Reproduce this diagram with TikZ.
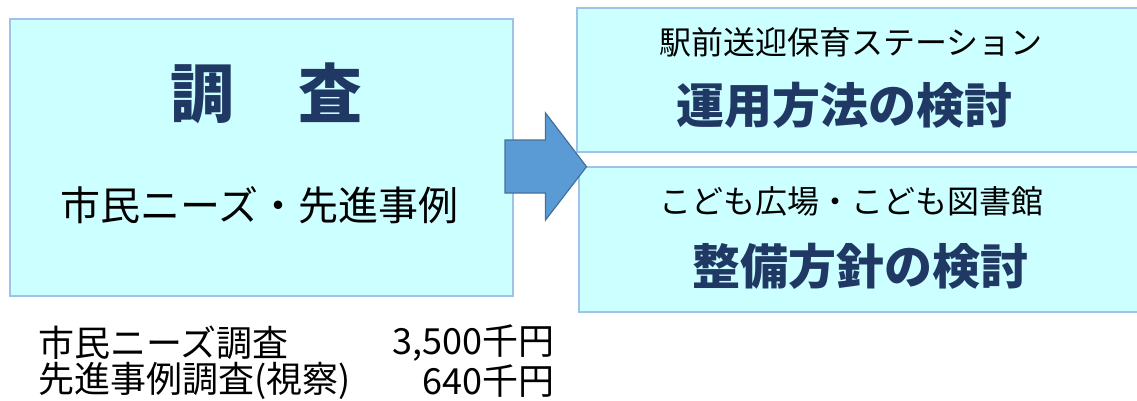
\documentclass[tikz,border=0pt]{standalone}
\usepackage{fontspec}
\setmainfont{Noto Sans CJK JP}
\definecolor{boxfill}{HTML}{CCFFFF}
\definecolor{boxline}{HTML}{9DC3E6}
\definecolor{navy}{HTML}{203864}
\definecolor{arrowfill}{HTML}{5B9BD5}
\definecolor{arrowline}{HTML}{41719C}
\tikzset{
  panel/.style={draw=boxline, fill=boxfill, line width=2pt},
  plain/.style={inner sep=0pt, text=black},
  bigtxt/.style={plain, font=\fontsize{40pt}{48pt}\selectfont},
  midtxt/.style={plain, font=\fontsize{32pt}{38pt}\selectfont},
  smalltxt/.style={plain, font=\fontsize{36pt}{42pt}\selectfont},
  headtxt/.style={inner sep=0pt, text=navy, font=\fontsize{48pt}{56pt}\selectfont\bfseries},
  titletxt/.style={inner sep=0pt, text=navy, font=\fontsize{64pt}{72pt}\selectfont\bfseries},
}
\begin{document}
\begin{tikzpicture}[x=1pt,y=-1pt]
\useasboundingbox (0,0) rectangle (1137,400);
% boxes
\draw[panel] (10,19) rectangle (513,296);
\draw[panel] (577,8) rectangle (1150,152);
\draw[panel] (579,167) rectangle (1150,312);
% arrow
\draw[fill=arrowfill, draw=arrowline, line width=1.2pt, line join=miter]
  (505,140) -- (545.5,140) -- (545.5,113) -- (586.5,166.7) -- (545.5,220) -- (545.5,193) -- (505,193) -- cycle;
% left box texts
\node[titletxt] (t1) at (266,93) {調　査};
\node[bigtxt] (t2) at (259,205) {市民ニーズ・先進事例};
% right top
\node[midtxt] (r1) at (851,42) {駅前送迎保育ステーション};
\node[headtxt] (r2) at (844,105) {運用方法の検討};
% right bottom
\node[midtxt] (r3) at (851,201) {こども広場・こども図書館};
\node[headtxt] (r4) at (860,266) {整備方針の検討};
% bottom list
\node[smalltxt, anchor=west] (l1) at (38,343) {市民ニーズ調査};
\node[smalltxt, anchor=east] (v1) at (555,343) {3,500千円};
\node[smalltxt, anchor=west] (l2) at (38,381) {先進事例調査(視察)};
\node[smalltxt, anchor=east] (v2) at (555,381) {640千円};
\end{tikzpicture}
\end{document}
